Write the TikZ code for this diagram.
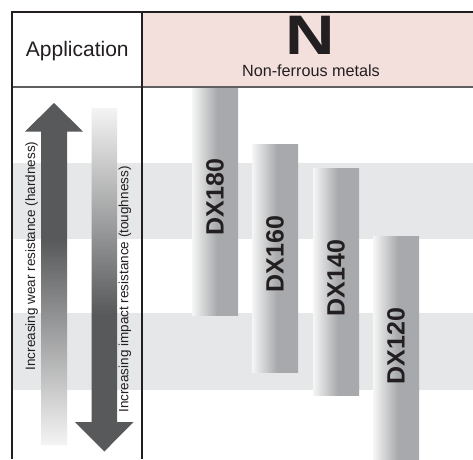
\documentclass[tikz,border=0pt]{standalone}
\usepackage{fontspec}
\setmainfont{Liberation Sans}
\definecolor{headerpink}{RGB}{243,224,221}
\definecolor{bandgray}{RGB}{230,231,232}
\definecolor{barlight}{RGB}{246,246,246}
\definecolor{bargray}{RGB}{167,169,172}
\definecolor{arrowdark}{RGB}{88,89,91}
\definecolor{arrowfade}{RGB}{244,244,244}
\definecolor{rulecol}{RGB}{35,31,32}
\definecolor{rulegray}{RGB}{95,95,98}
\pgfdeclarehorizontalshading{barshade}{100bp}{color(0bp)=(barlight); color(25bp)=(barlight); color(52bp)=(bargray); color(100bp)=(bargray)}
\pgfdeclareverticalshading{upshade}{100bp}{color(0bp)=(white); color(25bp)=(arrowfade); color(55bp)=(arrowdark); color(100bp)=(arrowdark)}
\pgfdeclareverticalshading{downshade}{100bp}{color(0bp)=(arrowdark); color(45bp)=(arrowdark); color(75bp)=(arrowfade); color(100bp)=(white)}
\begin{document}
\begin{tikzpicture}[x=1pt,y=-1pt,
  band/.style={fill=bandgray},
  gradebar/.style={shading=barshade},
  gradelabel/.style={rotate=90,inner sep=0pt,text=rulecol,font=\fontsize{25}{25}\selectfont\bfseries},
  sidelabel/.style={rotate=90,inner sep=0pt,anchor=base,text=rulecol,font=\fontsize{13.5}{13.5}\selectfont},
  frameline/.style={draw=rulecol,line width=2.2pt},
  thinline/.style={draw=rulecol,line width=1.1pt},
  grayline/.style={draw=rulegray,line width=1.1pt}]
\useasboundingbox (0,0) rectangle (473,459);
\clip (0,0) rectangle (473,459);
\fill[white] (0,0) rectangle (473,459);
% header cell for the material group
\fill[headerpink] (142,12) rectangle (473,87);
% alternating background bands
\path[band] (12,163) rectangle (473,238.5);
\path[band] (12,313) rectangle (473,389.5);
% grade bars
\path[gradebar] (192,87) rectangle (238,315);
\path[gradebar] (252,144) rectangle (298,372);
\path[gradebar] (313,168) rectangle (359,395);
\path[gradebar] (373,236) rectangle (419,464);
% property arrows
\path[shading=upshade] (54,103) -- (83,131.5) -- (67,131.5) -- (67,445) -- (41,445) -- (41,131.5) -- (25,131.5) -- cycle;
\path[shading=downshade] (91.5,108) -- (117,108) -- (117,422) -- (133.5,422) -- (104.3,451.5) -- (75,422) -- (91.5,422) -- cycle;
% table rules
\path[grayline] (12,87) -- (473,87);
\path[frameline] (12,459) -- (12,12) -- (473,12);
\path[thinline] (142,12) -- (142,459);
% texts
\node[anchor=base,inner sep=0pt,text=rulecol,font=\fontsize{21}{21}\selectfont] (app) at (77.3,56.7) {Application};
\node[inner sep=0pt,text=rulecol] (grp) at (310.5,35.5) {\scalebox{1.23}[1]{\fontsize{55.7}{55.7}\selectfont\bfseries N}};
\node[anchor=base,inner sep=0pt,text=rulecol,font=\fontsize{16.2}{16.2}\selectfont] (grpname) at (311,76.5) {Non-ferrous metals};
\node[sidelabel] (wear) at (35,256) {Increasing wear resistance (hardness)};
\node[sidelabel] (impact) at (128.3,289.5) {Increasing impact resistance (toughness)};
\node[gradelabel] (dx180) at (215,197) {DX180};
\node[gradelabel] (dx160) at (275,254) {DX160};
\node[gradelabel] (dx140) at (336,278) {DX140};
\node[gradelabel] (dx120) at (396,346) {DX120};
\end{tikzpicture}
\end{document}
